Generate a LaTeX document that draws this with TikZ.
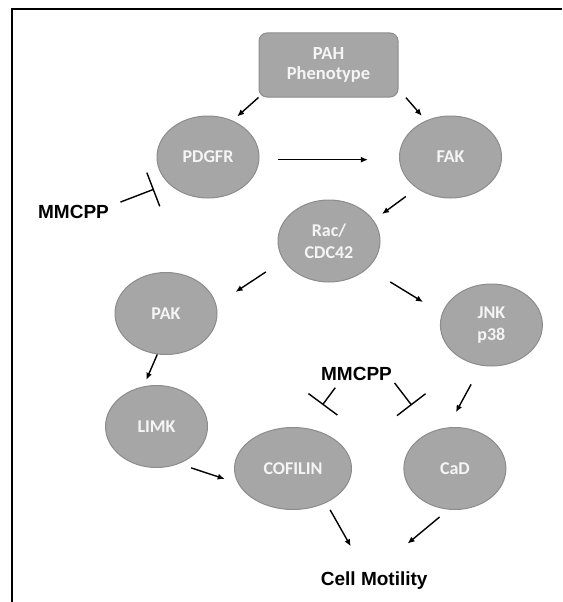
\documentclass[tikz,border=0pt]{standalone}
\usepackage{fontspec}
\setmainfont{Liberation Sans}
\newfontfamily\calibri{Carlito}
\usetikzlibrary{arrows.meta,shapes.geometric}
\definecolor{nodegray}{RGB}{166,166,166}
\definecolor{rimgray}{RGB}{140,140,140}
\definecolor{labelgray}{RGB}{245,245,245}

\begin{document}
\begin{tikzpicture}[x=1pt, y=-1pt, line width=1.4pt]
        \useasboundingbox (0,0) rectangle (562,602);
        \draw[line width=1.8pt] (11.8,602)--(11.8,9.2)--(562,9.2);

        \tikzstyle{n}=[ellipse, draw=rimgray, line width=1pt, fill=nodegray, minimum width=102pt, minimum height=82pt, inner sep=0pt, text=labelgray, align=center, font=\calibri\bfseries\fontsize{18}{22.5}\selectfont]
        \tikzstyle{box}=[rectangle, rounded corners=8pt, draw=rimgray, line width=1pt, fill=nodegray, minimum width=139pt, minimum height=64pt, text=labelgray, align=center, font=\calibri\bfseries\fontsize{18.5}{20.7}\selectfont]
        \tikzstyle{drug}=[inner sep=2pt, font=\bfseries\fontsize{19}{22}\selectfont]
        \node[box] (PAH) at (328.5,65) {PAH\\Phenotype};
        \node[n] (PDGFR) at (208,157) {PDGFR};
        \node[n] (FAK) at (450.5,157) {FAK};
        \node[n] (RAC) at (329,241) {Rac/\\CDC42};
        \node[n] (PAK) at (166,313.5) {PAK};
        \node[n] (JNK) at (491.4,325) {JNK\\p38};
        \node[n] (LIMK) at (156.5,426.5) {LIMK};
        \node[n, minimum width=117pt] (COF) at (293,468.5) {COFILIN};
        \node[n] (CAD) at (454.9,468.5) {CaD};
        \node[drug] (M1) at (73.5,211.5) {MMCPP};
        \node[drug] (M2) at (356.5,373.5) {MMCPP};
        \node[drug, anchor=base] (CELL) at (374.2,585) {Cell Motility};

        \tikzstyle{act}=[->,>={Latex[length=7pt,width=6pt]}]
        \tikzstyle{inh}=[-{Bar[width=36pt]}]
        \draw[act, shorten >=6.2pt] (PAH.south west)--(PDGFR.56);
        \draw[act, shorten <=11.4pt, shorten >=6.2pt] (PAH.-19.6)--(FAK.124);
        \draw[act, shorten <=18.3pt, shorten >=31.2pt] (PDGFR.-3.7)--(FAK.183.7);
        \draw[act, shorten <=13.6pt, shorten >=10.5pt] (FAK.223)--(RAC.25.4);
        \draw[act, shorten <=21pt, shorten >=23.1pt] (RAC.203.4)--(PAK.10.3);
        \draw[act, shorten <=26.3pt, shorten >=22.1pt] (RAC.-35)--(JNK.167);
        \draw[act, shorten >=7.1pt] (PAK.258.2)--(LIMK.108.2);
        \draw[act, shorten <=12.8pt, shorten >=13.9pt] (LIMK.-59.2)--(COF.195.9);
        \draw[act, shorten <=21.3pt, shorten >=17.3pt] (JNK.256.1)--(CAD.100.7);
        \draw[act, shorten <=8.1pt, shorten >=25.5pt] (COF.-46.9)--([xshift=-10.9pt]CELL.north);
        \draw[act, shorten <=11.5pt, shorten >=39pt] (CAD.261.4)--([xshift=3.4pt]CELL.north);
        \draw[inh, shorten <=9.5pt, shorten >=15.6pt] (M1.9)--(PDGFR.214.4);
        \draw[inh, shorten <=5.9pt, shorten >=28.7pt] (M2.208.4)--(COF.73.6);
        \draw[inh, shorten >=33pt] (M2.south east)--(CAD.122.2);
    \end{tikzpicture}
\end{document}
